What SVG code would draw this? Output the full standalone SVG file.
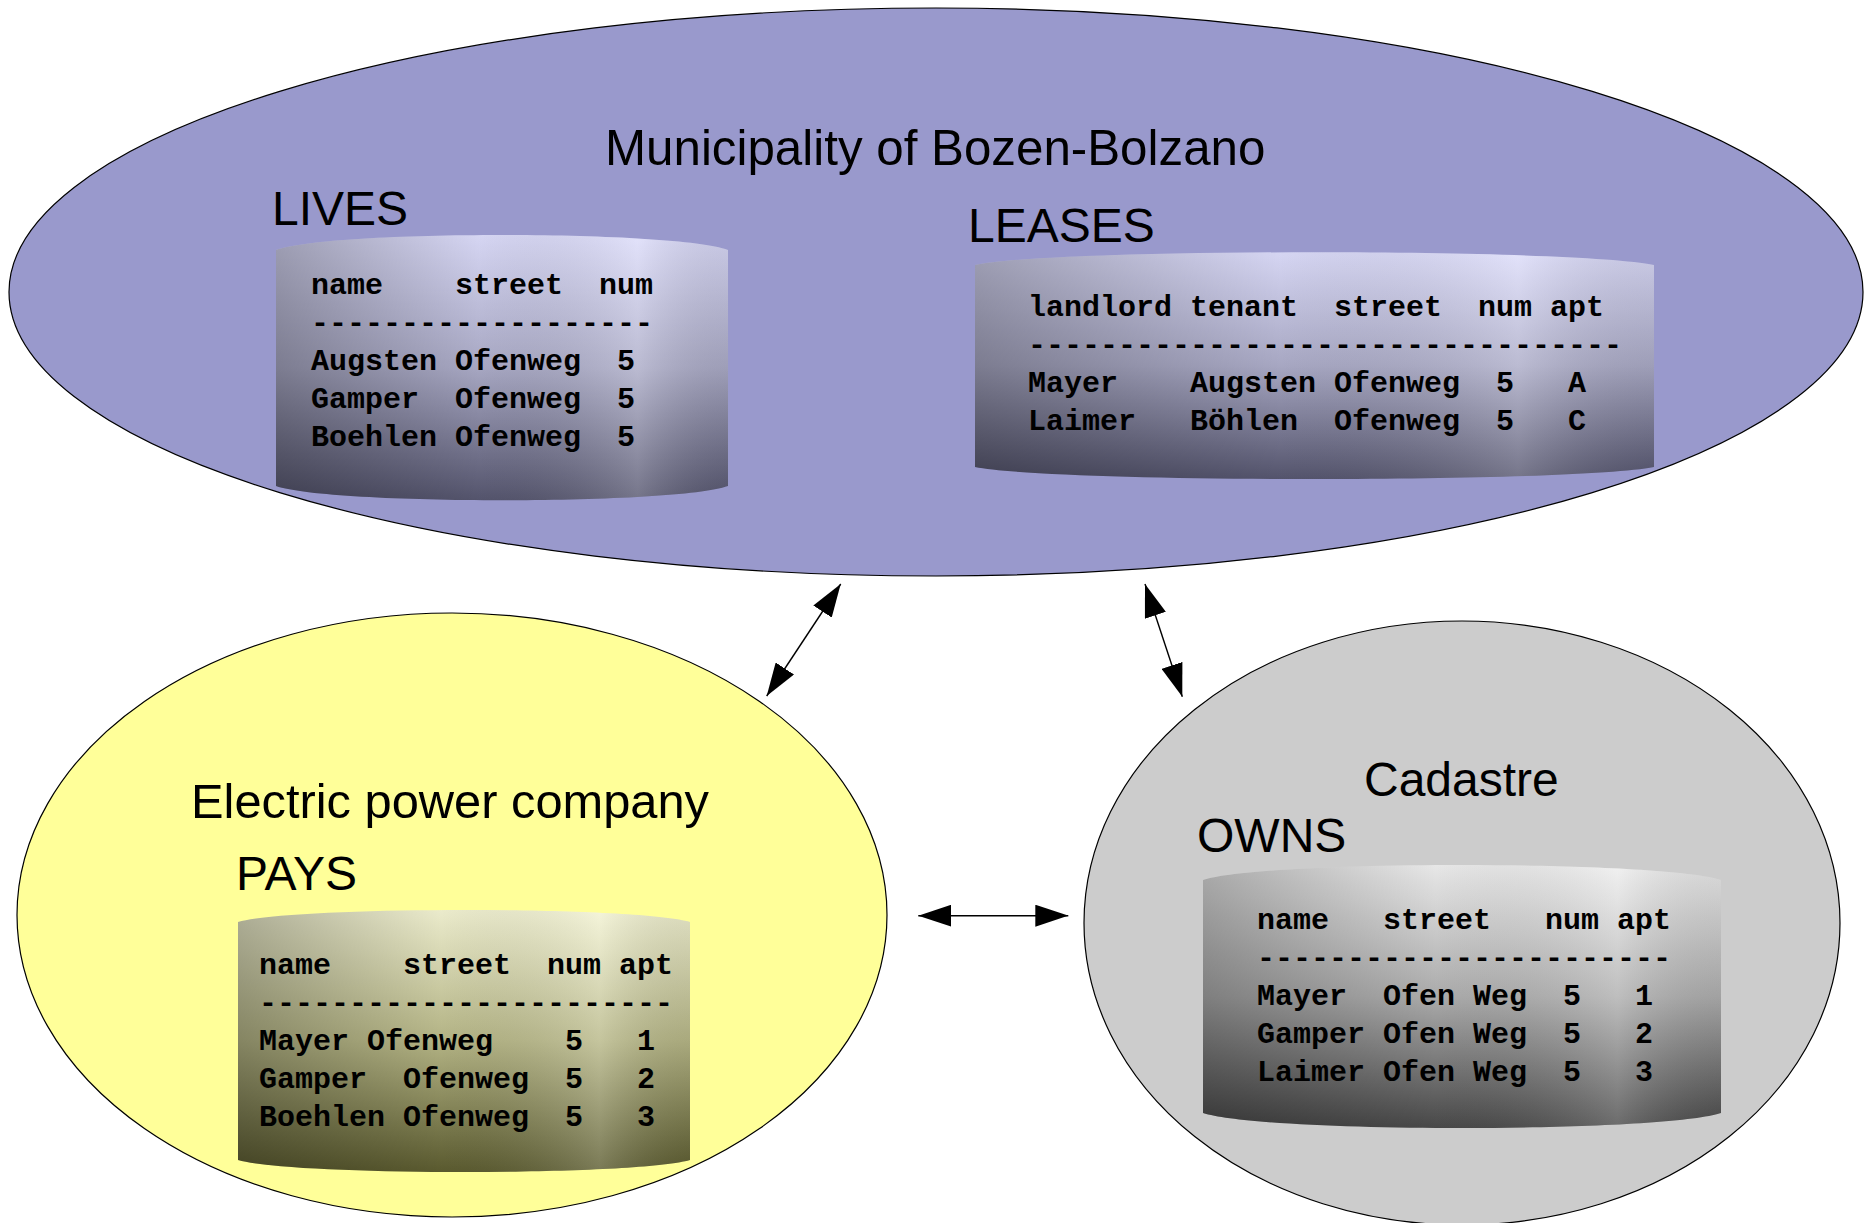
<svg xmlns="http://www.w3.org/2000/svg" width="1867" height="1223" viewBox="0 0 1867 1223">
<style>
.ell{stroke:#000;stroke-width:1.2}
.lbl{font-family:"Liberation Sans",Arial,sans-serif;font-size:48px;fill:#000}
.tbl{font-family:"Liberation Mono","Courier New",monospace;font-size:30px;font-weight:bold;fill:#000;white-space:pre}
.conn{stroke:#000;stroke-width:1.4;fill:none;marker-start:url(#arr);marker-end:url(#arr)}
</style>
<defs>
<marker id="arr" markerUnits="userSpaceOnUse" markerWidth="33" markerHeight="22" viewBox="0 0 33 22" refX="33" refY="11" orient="auto-start-reverse">
<path d="M0,0 L33,11 L0,22 Z" fill="#000"/>
</marker>
<linearGradient id="gBlue" x1="0" y1="0" x2="0" y2="1">
<stop offset="0" stop-color="#dcdcfa"/>
<stop offset="0.5" stop-color="#acacc8"/>
<stop offset="1" stop-color="#56566f"/>
</linearGradient>
<linearGradient id="gYel" x1="0" y1="0" x2="0" y2="1">
<stop offset="0" stop-color="#f2f2d2"/>
<stop offset="0.5" stop-color="#b8b888"/>
<stop offset="1" stop-color="#5c5c30"/>
</linearGradient>
<linearGradient id="gGray" x1="0" y1="0" x2="0" y2="1">
<stop offset="0" stop-color="#eeeeee"/>
<stop offset="0.5" stop-color="#b0b0b0"/>
<stop offset="1" stop-color="#4a4a4a"/>
</linearGradient>
<linearGradient id="shadeH" x1="0" y1="0" x2="1" y2="0">
<stop offset="0" stop-color="#000" stop-opacity="0.28"/>
<stop offset="0.45" stop-color="#000" stop-opacity="0.03"/>
<stop offset="0.8" stop-color="#fff" stop-opacity="0.18"/>
<stop offset="1" stop-color="#000" stop-opacity="0.08"/>
</linearGradient>
</defs>

<g id="municipality">
<ellipse class="ell" cx="936" cy="292" rx="927" ry="284" fill="#9999cc"/>
<text class="lbl" x="605" y="165" style="font-size:49.3px">Municipality of Bozen-Bolzano</text>
</g>

<g id="lives">
<text class="lbl" x="272" y="225">LIVES</text>
<path d="M276,250 C330,230 674,230 728,250 L728,486 C674,505 330,505 276,486 Z" fill="url(#gBlue)"/>
<path d="M276,250 C330,230 674,230 728,250 L728,486 C674,505 330,505 276,486 Z" fill="url(#shadeH)"/>
<text class="tbl" xml:space="preserve" x="311" y="294">name    street  num</text>
<text class="tbl" xml:space="preserve" x="311" y="332">-------------------</text>
<text class="tbl" xml:space="preserve" x="311" y="370">Augsten Ofenweg  5</text>
<text class="tbl" xml:space="preserve" x="311" y="408">Gamper  Ofenweg  5</text>
<text class="tbl" xml:space="preserve" x="311" y="446">Boehlen Ofenweg  5</text>
</g>

<g id="leases">
<text class="lbl" x="968" y="242">LEASES</text>
<path d="M975,265 C1055,248 1574,248 1654,265 L1654,467 C1574,483 1055,483 975,467 Z" fill="url(#gBlue)"/>
<path d="M975,265 C1055,248 1574,248 1654,265 L1654,467 C1574,483 1055,483 975,467 Z" fill="url(#shadeH)"/>
<text class="tbl" xml:space="preserve" x="1028" y="316">landlord tenant  street  num apt</text>
<text class="tbl" xml:space="preserve" x="1028" y="354">---------------------------------</text>
<text class="tbl" xml:space="preserve" x="1028" y="392">Mayer    Augsten Ofenweg  5   A</text>
<text class="tbl" xml:space="preserve" x="1028" y="430">Laimer   Böhlen  Ofenweg  5   C</text>
</g>

<g id="electric">
<ellipse class="ell" cx="452" cy="915" rx="435" ry="302" fill="#ffff99"/>
<text class="lbl" x="191" y="818" style="font-size:48.8px">Electric power company</text>
</g>

<g id="pays">
<text class="lbl" x="236" y="890">PAYS</text>
<path d="M238,922 C292,906 636,906 690,922 L690,1160 C636,1176 292,1176 238,1160 Z" fill="url(#gYel)"/>
<path d="M238,922 C292,906 636,906 690,922 L690,1160 C636,1176 292,1176 238,1160 Z" fill="url(#shadeH)"/>
<text class="tbl" xml:space="preserve" x="259" y="974">name    street  num apt</text>
<text class="tbl" xml:space="preserve" x="259" y="1012">-----------------------</text>
<text class="tbl" xml:space="preserve" x="259" y="1050">Mayer Ofenweg    5   1</text>
<text class="tbl" xml:space="preserve" x="259" y="1088">Gamper  Ofenweg  5   2</text>
<text class="tbl" xml:space="preserve" x="259" y="1126">Boehlen Ofenweg  5   3</text>
</g>

<g id="cadastre">
<ellipse class="ell" cx="1462" cy="923" rx="378" ry="302" fill="#cccccc"/>
<text class="lbl" x="1364" y="796">Cadastre</text>
</g>

<g id="owns">
<text class="lbl" x="1197" y="852">OWNS</text>
<path d="M1203,880 C1265,860 1659,860 1721,880 L1721,1113 C1659,1133 1265,1133 1203,1113 Z" fill="url(#gGray)"/>
<path d="M1203,880 C1265,860 1659,860 1721,880 L1721,1113 C1659,1133 1265,1133 1203,1113 Z" fill="url(#shadeH)"/>
<text class="tbl" xml:space="preserve" x="1257" y="929">name   street   num apt</text>
<text class="tbl" xml:space="preserve" x="1257" y="967">-----------------------</text>
<text class="tbl" xml:space="preserve" x="1257" y="1005">Mayer  Ofen Weg  5   1</text>
<text class="tbl" xml:space="preserve" x="1257" y="1043">Gamper Ofen Weg  5   2</text>
<text class="tbl" xml:space="preserve" x="1257" y="1081">Laimer Ofen Weg  5   3</text>
</g>

<g id="connectors">
<line class="conn" x1="840.7" y1="584" x2="766.7" y2="696"/>
<line class="conn" x1="1145" y1="584" x2="1182.3" y2="696.7"/>
<line class="conn" x1="918.3" y1="915.7" x2="1068.3" y2="915.7"/>
</g>
</svg>
